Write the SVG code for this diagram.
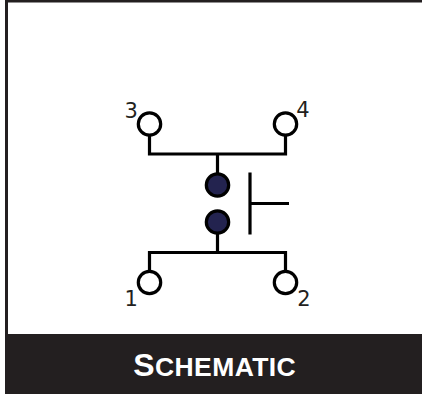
<svg xmlns="http://www.w3.org/2000/svg" width="422" height="395" viewBox="0 0 422 395">
<style>
.w{fill:none;stroke:#000;stroke-width:3.200}
.t{fill:#fff;stroke:#000;stroke-width:3.200}
.c{fill:#23234f;stroke:#000;stroke-width:3.200}
.n{font-family:"DejaVu Sans",sans-serif;font-size:21px;fill:#231f20}
.s{font-family:"Liberation Sans",sans-serif;font-weight:bold;fill:#fff;letter-spacing:.4px}
</style>
<rect width="422" height="395" fill="#fff"/>
<path d="M6.500 334V1H422" fill="none" stroke="#231f20" stroke-width="3"/>
<rect x="5" y="334" width="417" height="60" fill="#231f20"/>
<g id="connectors">
<path class="w" d="M149.500 135V154H285.500V135M217.500 154V173"/>
<path class="w" d="M149.500 271V252.500H285.500V271M217.500 252.500V234"/>
</g>
<g id="actuator"><path class="w" d="M250 172.500V234.500M250 203.500H289"/></g>
<g id="t3"><circle class="t" cx="149.500" cy="124" r="11.200"/><text class="n" x="124.500" y="117.500">3</text></g>
<g id="t4"><circle class="t" cx="285.500" cy="124" r="11.200"/><text class="n" x="296.300" y="117">4</text></g>
<g id="t1"><circle class="t" cx="149.500" cy="282.500" r="11.200"/><text class="n" x="124.400" y="306">1</text></g>
<g id="t2"><circle class="t" cx="285.500" cy="282.500" r="11.200"/><text class="n" x="297.200" y="306">2</text></g>
<g id="c1"><circle class="c" cx="217.500" cy="185" r="11.200"/></g>
<g id="c2"><circle class="c" cx="217.500" cy="222" r="11.200"/></g>
<g id="label"><text class="s" x="214.700" y="376.300" text-anchor="middle" font-size="32">S<tspan font-size="26.500">CHEMATIC</tspan></text></g>
</svg>
